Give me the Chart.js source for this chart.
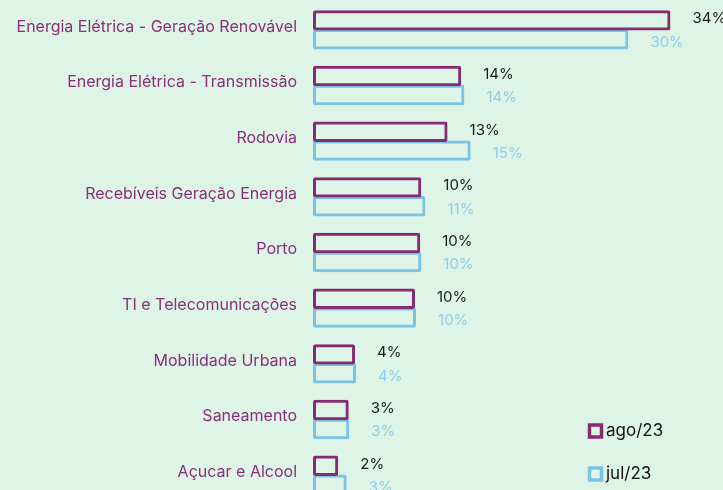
<!DOCTYPE html>
<html>
<head>
<meta charset="utf-8">
<script src="https://cdn.jsdelivr.net/npm/chart.js@4"></script>
<style>
  html, body { margin: 0; padding: 0; background: #ddf4e7; overflow: hidden; width: 723px; height: 490px; }
  canvas { display: block; }
</style>
</head>
<body>
<canvas id="myChart" width="723" height="505"></canvas>
<script>
// categories and values (%)
var categories = [
  'Energia Elétrica - Geração Renovável',
  'Energia Elétrica - Transmissão',
  'Rodovia',
  'Recebíveis Geração Energia',
  'Porto',
  'TI e Telecomunicações',
  'Mobilidade Urbana',
  'Saneamento',
  'Açucar e Alcool'
];
var ago23 = [34, 14.1, 12.8, 10.3, 10.2, 9.7, 4.0, 3.4, 2.4];
var jul23 = [30, 14.4, 15.0, 10.7, 10.3, 9.8, 4.1, 3.45, 3.2];

var purple = '#862a72';
var blue = '#78c3e6';
var fontName = 'Inter, "Open Sans", sans-serif';

// percent labels next to bars
var valueLabels = {
  id: 'valueLabels',
  afterDatasetsDraw: function(chart) {
    var ctx = chart.ctx;
    ctx.save();
    ctx.font = '15px ' + fontName;
    ctx.textAlign = 'left';
    ctx.textBaseline = 'middle';
    chart.data.datasets.forEach(function(ds, i) {
      var meta = chart.getDatasetMeta(i);
      ctx.fillStyle = i === 0 ? '#1a1a1a' : '#8dcdec';
      var dy = i === 0 ? -1.5 : 3;
      meta.data.forEach(function(bar, j) {
        ctx.fillText(Math.round(ds.data[j]) + '%', bar.x + 22, bar.y + dy);
      });
    });
    ctx.restore();
  }
};

// legend in the bottom right corner
var cornerLegend = {
  id: 'cornerLegend',
  afterDraw: function(chart) {
    var ctx = chart.ctx;
    ctx.save();
    ctx.font = '17px ' + fontName;
    ctx.textBaseline = 'middle';
    chart.data.datasets.forEach(function(ds, i) {
      var y = 431 + i * 43;
      ctx.strokeStyle = ds.borderColor;
      ctx.lineWidth = 3.5;
      ctx.strokeRect(589.5, y - 6, 12, 12);
      ctx.fillStyle = '#111';
      ctx.fillText(ds.label, 606, y);
    });
    ctx.restore();
  }
};

var config = {
  type: 'bar',
  data: {
    labels: categories,
    datasets: [{
      label: 'ago/23',
      data: ago23,
      borderColor: purple,
      backgroundColor: 'rgba(0,0,0,0)',
      borderWidth: 3,
      borderRadius: 2,
      borderSkipped: false
    }, {
      label: 'jul/23',
      data: jul23,
      borderColor: blue,
      backgroundColor: 'rgba(0,0,0,0)',
      borderWidth: 3,
      borderRadius: 2,
      borderSkipped: false
    }]
  },
  options: {
    indexAxis: 'y',
    responsive: false,
    animation: false,
    // bars slightly overlap so the two outlines share an edge
    categoryPercentage: 0.68,
    barPercentage: 1.08,
    layout: { padding: { top: 2, right: 0, bottom: 2, left: 0 } },
    plugins: {
      legend: { display: false },
      tooltip: { enabled: false }
    },
    scales: {
      x: {
        display: false,
        min: 0,
        max: 39
      },
      y: {
        grid: { display: false, drawTicks: false },
        border: { display: false },
        ticks: {
          color: '#8a2f78',
          padding: 16,
          labelOffset: -3,
          font: { family: fontName, size: 16 }
        },
        afterFit: function(scale) {
          scale.width = 313;
          // no extra room above/below, the rows fill the canvas
          scale.paddingTop = 0;
          scale.paddingBottom = 0;
        }
      }
    }
  },
  plugins: [valueLabels, cornerLegend]
};

var myChart = new Chart(document.getElementById('myChart'), config);
</script>
</body>
</html>
